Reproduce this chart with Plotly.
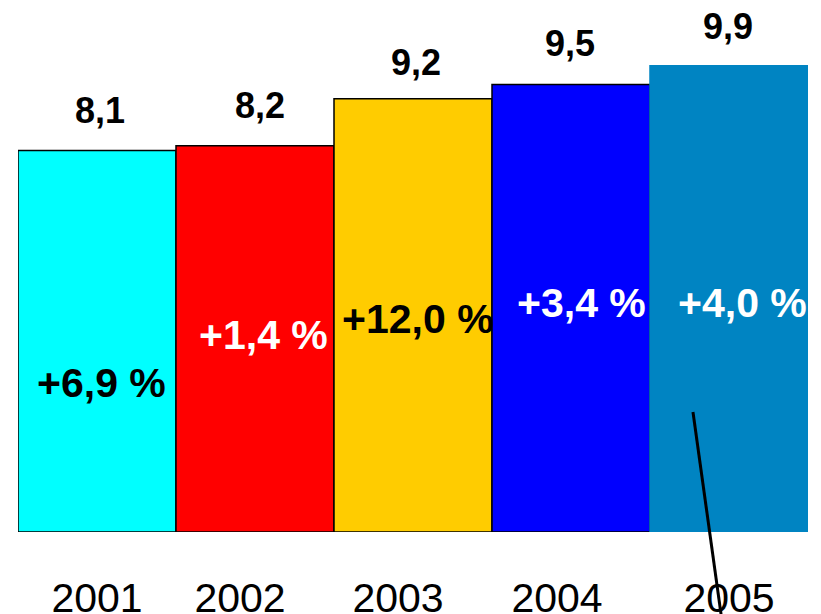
import plotly.graph_objects as go

years = ["2001", "2002", "2003", "2004", "2005"]
values = [8.1, 8.2, 9.2, 9.5, 9.9]
value_labels = ["8,1", "8,2", "9,2", "9,5", "9,9"]
growth_labels = ["+6,9 %", "+1,4 %", "+12,0 %", "+3,4 %", "+4,0 %"]

bar_colors = ["#00FFFF", "#FF0000", "#FFCC00", "#0000FF", "#0084C2"]
outline_colors = ["black", "black", "black", "black", "#0084C2"]
growth_colors = ["black", "white", "black", "white", "white"]
growth_y = [3.16, 4.18, 4.52, 4.86, 4.86]
growth_xshift = [4, 8, 5, 10, 13]
value_yshift = [40, 40, 36, 41, 39]
value_xshift = [3, 5, 3, -1, -1]
tick_shift_px = [0, -15, -15, -14, 0]

FONT = "Liberation Sans, Arial, sans-serif"
pos = list(range(len(years)))
BAR_PX = 158.0
tick_pos = [p + s / BAR_PX for p, s in zip(pos, tick_shift_px)]

fig = go.Figure()
fig.add_trace(go.Bar(
    x=pos, y=values, width=1,
    marker=dict(color=bar_colors, line=dict(color=outline_colors, width=1.5)),
    hoverinfo="skip",
))

for i in pos:
    fig.add_annotation(x=i, y=values[i], text=f"<b>{value_labels[i]}</b>",
                       showarrow=False, yanchor="middle", yshift=value_yshift[i],
                       xshift=value_xshift[i],
                       font=dict(family=FONT, size=36, color="black"))
    fig.add_annotation(x=i, y=growth_y[i], text=f"<b>{growth_labels[i]}</b>",
                       showarrow=False, yanchor="middle", xshift=growth_xshift[i],
                       font=dict(family=FONT, size=41, color=growth_colors[i]))

fig.add_shape(type="line", xref="paper", yref="paper",
              x0=0.8544, y0=0.229, x1=0.8927, y1=-0.187,
              line=dict(color="black", width=3))

fig.update_layout(
    width=821, height=614,
    margin=dict(l=10, r=21, t=0, b=90),
    paper_bgcolor="white", plot_bgcolor="white",
    showlegend=False,
    font=dict(family=FONT),
)
fig.update_xaxes(range=[-0.5, 4.5], tickvals=tick_pos, ticktext=years, automargin=False,
                 showline=False, showgrid=False, zeroline=False,
                 ticks="outside", ticklen=30, tickcolor="rgba(0,0,0,0)",
                 tickfont=dict(family=FONT, size=41, color="black"))
fig.update_yaxes(range=[0, 11.125], visible=False, automargin=False,
                 showgrid=False, zeroline=False)

fig.write_html("out.html")
